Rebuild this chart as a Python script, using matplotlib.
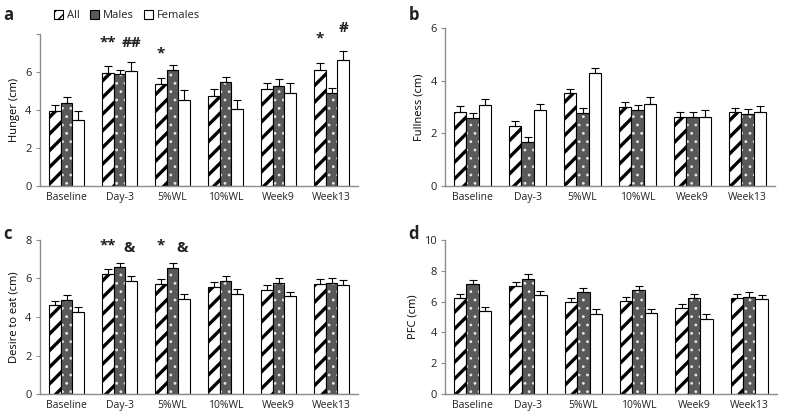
import numpy as np
import matplotlib
matplotlib.use("Agg")
import matplotlib.pyplot as plt
from matplotlib.patches import Patch

plt.rcParams["font.family"] = ["Open Sans", "DejaVu Sans"]
plt.rcParams["text.color"] = "#222222"
plt.rcParams["xtick.color"] = "#222222"
plt.rcParams["ytick.color"] = "#222222"

groups = ["All", "Males", "Females"]
timepoints = ["Baseline", "Day-3", "5%WL", "10%WL", "Week9", "Week13"]

hunger_all = [3.93, 5.96, 5.35, 4.73, 5.11, 6.10]
hunger_all_se = [0.35, 0.36, 0.31, 0.38, 0.32, 0.36]
hunger_males = [4.37, 5.88, 6.09, 5.47, 5.29, 4.90]
hunger_males_se = [0.30, 0.22, 0.28, 0.28, 0.32, 0.27]
hunger_females = [3.49, 6.05, 4.55, 4.05, 4.90, 6.62]
hunger_females_se = [0.47, 0.50, 0.49, 0.50, 0.53, 0.49]

fullness_all = [2.82, 2.27, 3.52, 3.01, 2.63, 2.80]
fullness_all_se = [0.22, 0.20, 0.18, 0.18, 0.18, 0.17]
fullness_males = [2.59, 1.66, 2.76, 2.88, 2.63, 2.72]
fullness_males_se = [0.19, 0.20, 0.19, 0.19, 0.18, 0.19]
fullness_females = [3.06, 2.88, 4.28, 3.11, 2.63, 2.82]
fullness_females_se = [0.26, 0.23, 0.22, 0.26, 0.25, 0.22]

desire_all = [4.63, 6.24, 5.72, 5.54, 5.42, 5.72]
desire_all_se = [0.22, 0.24, 0.24, 0.26, 0.25, 0.26]
desire_males = [4.89, 6.58, 6.53, 5.87, 5.77, 5.79]
desire_males_se = [0.26, 0.24, 0.26, 0.28, 0.27, 0.25]
desire_females = [4.28, 5.89, 4.92, 5.22, 5.08, 5.67]
desire_females_se = [0.26, 0.26, 0.26, 0.24, 0.24, 0.24]

pfc_all = [6.22, 7.02, 5.96, 6.05, 5.57, 6.22]
pfc_all_se = [0.26, 0.24, 0.26, 0.28, 0.26, 0.26]
pfc_males = [7.13, 7.47, 6.65, 6.76, 6.22, 6.33]
pfc_males_se = [0.28, 0.33, 0.26, 0.26, 0.28, 0.28]
pfc_females = [5.36, 6.44, 5.21, 5.25, 4.88, 6.18]
pfc_females_se = [0.32, 0.26, 0.32, 0.28, 0.30, 0.26]

# (text, timepoint index, bar offset, y)
hunger_marks = [("**", 1, -1, 7.55), ("##", 1, 1, 7.55), ("*", 2, -1, 6.95),
                ("*", 5, -1, 7.75), ("#", 5, 1, 8.3)]
desire_marks = [("**", 1, -1, 7.7), ("&", 1, 0.8, 7.6), ("*", 2, -1, 7.7), ("&", 2, 0.8, 7.6)]

W = 0.225
GREY = "#8c8c8c"


def draw_bars(ax, x, vals, se, kind):
    if kind == 0:
        with plt.rc_context({"hatch.linewidth": 2.4}):
            ax.bar(x, vals, W, color="white", edgecolor="black", hatch="//", linewidth=0)
    elif kind == 1:
        with plt.rc_context({"hatch.linewidth": 0.8}):
            ax.bar(x, vals, W, color="#595959", edgecolor="#e6e6e6", hatch="..", linewidth=0)
    else:
        ax.bar(x, vals, W, color="white", linewidth=0)
    ax.bar(x, vals, W, fill=False, edgecolor="black", linewidth=0.8)
    ax.errorbar(x, vals, yerr=[np.zeros(len(vals)), se], fmt="none", ecolor="black",
                elinewidth=0.8, capsize=3, capthick=0.8)


def panel(rect, letter, ylabel, ymax, yticks, series, marks=(), ylabels=None):
    ax = fig.add_axes(rect)
    x = np.arange(len(timepoints))
    for k, (v, e) in enumerate(series):
        draw_bars(ax, x + (k - 1) * W, v, e, k)
    ax.set_xlim(-0.5, len(timepoints) - 0.5)
    ax.set_ylim(0, ymax)
    ax.set_yticks(yticks)
    if ylabels is not None:
        ax.set_yticklabels(ylabels)
    ax.set_xticks(x)
    ax.set_xticklabels(timepoints, fontsize=7.5)
    ax.tick_params(axis="x", length=0, pad=4)
    ax.tick_params(axis="y", labelsize=8, length=3, color=GREY, pad=3)
    for s in ("top", "right"):
        ax.spines[s].set_visible(False)
    for s in ("left", "bottom"):
        ax.spines[s].set_color(GREY)
        ax.spines[s].set_linewidth(1)
    ax.set_ylabel(ylabel, fontsize=8)
    for txt, i, off, y in marks:
        ax.text(i + off * W, y, txt, ha="center", va="center", fontsize=11,
                fontweight="bold", clip_on=False)
    fig.text(rect[0] - 0.046, 0.985 if rect[1] > 0.3 else 0.455, letter,
             fontsize=12, fontweight="bold", va="top")
    return ax


fig = plt.figure(figsize=(7.94, 4.13), dpi=100)

panel([0.0504, 0.5496, 0.4005, 0.368], "a", "Hunger (cm)", 8, [0, 2, 4, 6, 8],
      [(hunger_all, hunger_all_se), (hunger_males, hunger_males_se),
       (hunger_females, hunger_females_se)], hunger_marks,
      ylabels=["0", "2", "4", "6", ""])
panel([0.5605, 0.5496, 0.4156, 0.3826], "b", "Fullness (cm)", 6, [0, 2, 4, 6],
      [(fullness_all, fullness_all_se), (fullness_males, fullness_males_se),
       (fullness_females, fullness_females_se)])
panel([0.0504, 0.046, 0.4005, 0.3729], "c", "Desire to eat (cm)", 8, [0, 2, 4, 6, 8],
      [(desire_all, desire_all_se), (desire_males, desire_males_se),
       (desire_females, desire_females_se)], desire_marks)
panel([0.5605, 0.046, 0.418, 0.3729], "d", "PFC (cm)", 10, [0, 2, 4, 6, 8, 10],
      [(pfc_all, pfc_all_se), (pfc_males, pfc_males_se),
       (pfc_females, pfc_females_se)])

with plt.rc_context({"hatch.linewidth": 1.5}):
    handles = [Patch(facecolor="white", edgecolor="black", hatch="///", linewidth=0.8),
               Patch(facecolor="#595959", edgecolor="black", linewidth=0.8),
               Patch(facecolor="white", edgecolor="black", linewidth=0.8)]
fig.legend(handles, groups, loc="upper left", bbox_to_anchor=(0.055, 1.0), ncol=3,
           frameon=False, fontsize=8, handlelength=0.8, handleheight=0.8,
           handletextpad=0.4, columnspacing=0.9)

fig.savefig("out.png", dpi=100)
